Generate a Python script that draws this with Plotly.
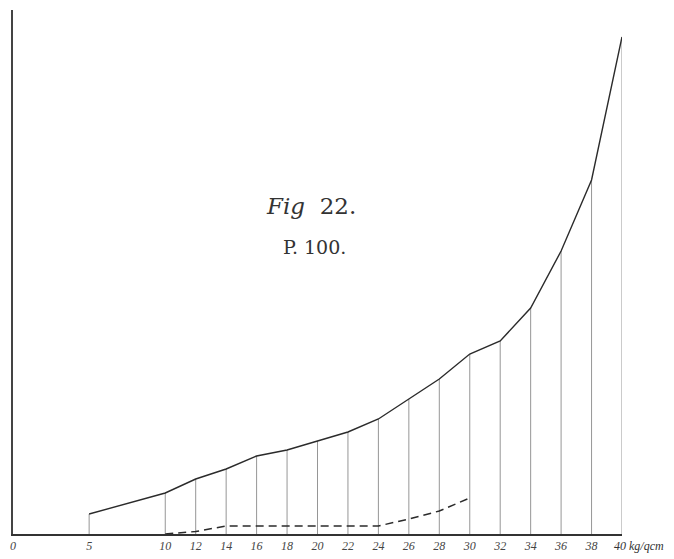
import plotly.graph_objects as go

# Data (y in arbitrary units)
pressure = [5, 10, 12, 14, 16, 18, 20, 22, 24, 26, 28, 30, 32, 34, 36, 38, 40]
solid_values = [4.0, 8.2, 11.0, 13.0, 15.6, 16.8, 18.6, 20.4, 23.0, 27.0, 31.0, 36.0, 38.6, 45.2, 56.6, 70.8, 99.4]

dashed_pressure = [10, 12, 14, 16, 18, 20, 22, 24, 26, 28, 30]
dashed_values = [0.0, 0.5, 1.6, 1.6, 1.6, 1.6, 1.6, 1.6, 3.0, 4.6, 7.2]

tick_values = [0, 5, 10, 12, 14, 16, 18, 20, 22, 24, 26, 28, 30, 32, 34, 36, 38, 40]
tick_labels = [str(v) for v in tick_values]
unit_label = "kg/qcm"

# vertical drop lines from each point to the axis
drop_x, drop_y = [], []
for xv, yv in zip(pressure, solid_values):
    drop_x += [xv, xv, None]
    drop_y += [0, yv, None]

fig = go.Figure()
fig.add_trace(go.Scatter(x=drop_x, y=drop_y, mode="lines",
                         line=dict(color="#8a8a8a", width=0.9), hoverinfo="skip"))
fig.add_trace(go.Scatter(x=pressure, y=solid_values, mode="lines",
                         line=dict(color="#2b2b2b", width=1.4)))
fig.add_trace(go.Scatter(x=dashed_pressure, y=dashed_values, mode="lines",
                         line=dict(color="#2b2b2b", width=1.5, dash="8px,5px")))

fig.add_annotation(x=19.6, y=65.6, text="<i>Fig</i>&nbsp;&nbsp;22.", showarrow=False,
                   font=dict(family="DejaVu Serif", size=23, color="#333"))
fig.add_annotation(x=19.8, y=57.4, text="P. 100.", showarrow=False,
                   font=dict(family="DejaVu Serif", size=19, color="#333"))
# last tick label together with the unit
fig.add_annotation(x=1, xref="paper", xshift=-10, y=0, yref="paper", yshift=-12,
                   text=tick_labels[-1] + "&nbsp;" + unit_label, showarrow=False,
                   xanchor="left", yanchor="middle",
                   font=dict(family="Liberation Serif", size=12, color="#333", style="italic"))

fig.update_layout(
    width=674, height=559,
    margin=dict(l=5, r=60, t=2, b=33),
    paper_bgcolor="white", plot_bgcolor="white",
    showlegend=False,
    xaxis=dict(range=[0, 40], tickvals=tick_values[:-1], ticktext=tick_labels[:-1], automargin=False,
               showgrid=False, zeroline=False, showline=True, linecolor="#333", linewidth=1.5,
               ticks="", tickfont=dict(family="Liberation Serif", size=12, color="#444", style="italic")),
    yaxis=dict(range=[0, 104.8], showgrid=False, zeroline=False, showline=True, automargin=False,
               linecolor="#444", linewidth=1.5, showticklabels=False, ticks=""),
)

fig.write_html("out.html")
